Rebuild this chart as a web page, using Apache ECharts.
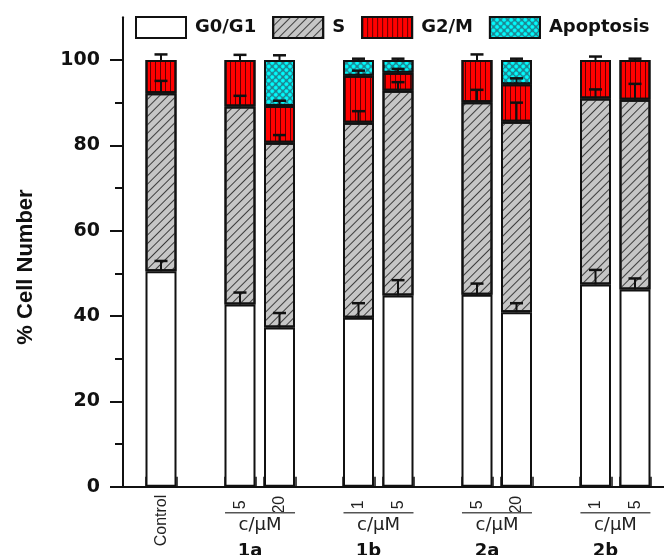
<!DOCTYPE html>
<html>
<head>
<meta charset="utf-8">
<script src="https://cdn.jsdelivr.net/npm/echarts@6/dist/echarts.min.js"></script>
<style>
  html, body { margin: 0; padding: 0; background: #ffffff; }
  #chart { width: 664px; height: 555px; }
</style>
</head>
<body>
<div id="chart"></div>
<script>
// Slot of each bar along the x axis (empty slots separate the compound groups)
const positions = [0, 2, 3, 5, 6, 8, 9, 11, 12];
const concLabels = ['Control', '5', '20', '1', '5', '5', '20', '1', '5'];
const groupNames = ['1a', '1b', '2a', '2b'];
const groupUnit = 'c/μM';
const groupMembers = [[1, 2], [3, 4], [5, 6], [7, 8]];

// Cell-cycle distribution (% of cells) per bar
const g0g1 = [50.5, 42.7, 37.3, 39.6, 44.8, 45.0, 40.9, 47.4, 46.2];
const sPhase = [41.7, 46.4, 43.3, 45.7, 48.0, 45.1, 44.6, 43.6, 44.5];
const g2m = [7.8, 10.9, 8.6, 11.0, 4.2, 9.9, 8.8, 9.0, 9.3];
const apoptosis = [0, 0, 10.8, 3.7, 3.0, 0, 5.7, 0, 0];

// Upper error (SD) of each segment
const g0g1Err = [2.4, 2.8, 3.4, 3.4, 3.6, 2.6, 2.1, 3.4, 2.6];
const sErr = [2.9, 2.5, 1.8, 2.7, 2.0, 2.9, 4.5, 2.1, 3.7];
const g2mErr = [1.3, 1.2, 1.25, 1.2, 0.9, 1.3, 1.4, 0.8, 0.3];
const apoErr = [0, 0, 1.1, 0.3, 0.3, 0, 0.3, 0, 0];

const yTicks = [0, 20, 40, 60, 80, 100];
const yMinorTicks = [10, 30, 50, 70, 90];

// Frame axes (value scale) and the bar axis (one band per slot)
const X_MIN = -0.97, X_MAX = 12.73;
const SLOT_COUNT = 13;
const HALF_BAR = 0.4;
const Y_MAX = 110;
const slots = Array.from({ length: SLOT_COUNT }, (_, i) => 'slot' + i);

const phases = [
  { name: 'G0/G1', values: g0g1, err: g0g1Err,
    style: { color: '#ffffff' } },
  { name: 'S', values: sPhase, err: sErr,
    style: { color: '#c6c6c6',
      decal: { symbol: 'rect', symbolSize: 1, dashArrayX: [1, 0], dashArrayY: [1, 5],
               rotation: -Math.PI / 4, color: '#3c3c3c' } } },
  { name: 'G2/M', values: g2m, err: g2mErr,
    style: { color: '#ff0000',
      decal: { symbol: 'rect', symbolSize: 1, dashArrayX: [1, 4], dashArrayY: [1, 0],
               rotation: 0, color: 'rgba(70,0,0,0.85)' } } },
  { name: 'Apoptosis', values: apoptosis, err: apoErr,
    style: { color: '#1f7f8c',
      decal: { symbol: 'circle', symbolSize: 1, dashArrayX: [4, 1], dashArrayY: [4, 1],
               rotation: Math.PI / 4, color: '#00ffff' } } }
];

function toSlots(values) {
  const out = slots.map(() => '-');
  positions.forEach((x, i) => { if (values[i] > 0) out[x] = values[i]; });
  return out;
}

const barSeries = phases.map(p => ({
  name: p.name,
  type: 'bar',
  stack: 'cells',
  xAxisIndex: 3,
  yAxisIndex: 2,
  barWidth: 31,
  itemStyle: Object.assign({ borderColor: '#111', borderWidth: 2 }, p.style),
  emphasis: { disabled: true },
  data: toSlots(p.values)
}));

// Cumulative segment tops, used to place the error bars
const tops = positions.map(() => 0);
const errSeries = phases.map(p => {
  const data = positions.map((x, i) => {
    tops[i] += p.values[i];
    return [x, tops[i], p.err[i]];
  });
  return {
    type: 'custom',
    xAxisIndex: 3,
    yAxisIndex: 2,
    z: 5,
    silent: true,
    data: data,
    renderItem: function (params, api) {
      const x = api.value(0), top = api.value(1), e = api.value(2);
      if (!(e > 0)) return;
      const p0 = api.coord([x, top]);
      const p1 = api.coord([x, top + e]);
      return {
        type: 'group',
        children: [
          { type: 'line', shape: { x1: p0[0], y1: p0[1], x2: p1[0], y2: p1[1] },
            style: { stroke: '#111', lineWidth: 2 } },
          { type: 'line', shape: { x1: p1[0] - 6.5, y1: p1[1], x2: p1[0] + 6.5, y2: p1[1] },
            style: { stroke: '#111', lineWidth: 2.5 } }
        ]
      };
    }
  };
});

const barEdges = [];
positions.forEach(x => { barEdges.push(x - HALF_BAR, x + HALF_BAR); });
const labelAt = {};
positions.forEach((x, i) => { labelAt[x] = concLabels[i]; });
const groupCenters = groupMembers.map(m => (positions[m[0]] + positions[m[1]]) / 2);
const groupAt = {};
groupCenters.forEach((c, i) => { groupAt[c] = groupNames[i]; });

const baseX = {
  type: 'value', gridIndex: 0, min: X_MIN, max: X_MAX, position: 'bottom',
  splitLine: { show: false }
};

const option = {
  animation: false,
  backgroundColor: '#ffffff',
  grid: [
    { left: 123, right: 0, top: 17.3, bottom: 68.3, containLabel: false, outerBoundsMode: 'none' },
    { left: 141.25, right: 9.25, top: 17.3, bottom: 68.3, containLabel: false, outerBoundsMode: 'none' }
  ],
  legend: {
    data: ['G0/G1', 'S', 'G2/M', 'Apoptosis'],
    left: 135, top: 16, padding: 0,
    itemWidth: 50, itemHeight: 21, itemGap: 16,
    icon: 'rect',
    selectedMode: false,
    textStyle: { fontFamily: 'DejaVu Sans', fontWeight: 'bold', fontSize: 18, color: '#111',
                 padding: [0, 0, 0, 4] }
  },
  xAxis: [
    Object.assign({}, baseX, {
      axisLine: { onZero: false, lineStyle: { color: '#111', width: 2 } },
      axisTick: { show: true, inside: true, length: 10, customValues: barEdges,
                  lineStyle: { color: '#111', width: 1.5 } },
      axisLabel: { customValues: [positions[0]], formatter: v => labelAt[v], rotate: 90, margin: 8,
                   fontFamily: 'Liberation Sans', fontSize: 16, color: '#222' }
    }),
    Object.assign({}, baseX, {
      axisLine: { show: false, onZero: false }, axisTick: { show: false },
      axisLabel: { customValues: positions.slice(1), formatter: v => labelAt[v], rotate: 90,
                   align: 'center', margin: 18,
                   fontFamily: 'Liberation Sans', fontSize: 16, color: '#222' }
    }),
    Object.assign({}, baseX, {
      axisLine: { show: false, onZero: false }, axisTick: { show: false },
      axisLabel: {
        customValues: groupCenters, margin: 24,
        formatter: v => '{ln| }\n{u|' + groupUnit + '}\n{g|' + groupAt[v] + '}',
        rich: {
          ln: { width: 70, height: 1.5, lineHeight: 4, backgroundColor: '#555', fontSize: 1 },
          u: { fontFamily: 'DejaVu Sans', fontSize: 18, color: '#222', lineHeight: 22 },
          g: { fontFamily: 'DejaVu Sans', fontWeight: 'bold', fontSize: 18, color: '#111',
               lineHeight: 30, padding: [0, 20, 0, 0] }
        }
      }
    }),
    {
      type: 'category', gridIndex: 1, data: slots, boundaryGap: true,
      show: false
    }
  ],
  yAxis: [
    {
      type: 'value', gridIndex: 0, min: 0, max: Y_MAX, position: 'left',
      splitLine: { show: false },
      axisLine: { show: true, onZero: false, lineStyle: { color: '#111', width: 2 } },
      axisTick: { show: true, length: 13, customValues: yTicks, lineStyle: { color: '#111', width: 2 } },
      axisLabel: { customValues: yTicks, margin: 23, fontFamily: 'DejaVu Sans', fontWeight: 'bold',
                   fontSize: 19, color: '#111' },
      name: '% Cell Number', nameLocation: 'middle', nameGap: 86, nameRotate: 90,
      nameTextStyle: { fontFamily: 'Liberation Sans', fontWeight: 'bold', fontSize: 22, color: '#111',
                       padding: [0, 30, 0, 0] }
    },
    {
      type: 'value', gridIndex: 0, min: 0, max: Y_MAX, position: 'left',
      splitLine: { show: false },
      axisLine: { show: false, onZero: false },
      axisTick: { show: true, length: 8, customValues: yMinorTicks, lineStyle: { color: '#111', width: 2 } },
      axisLabel: { show: false }
    },
    {
      type: 'value', gridIndex: 1, min: 0, max: Y_MAX, show: false, splitLine: { show: false }
    }
  ],
  series: barSeries.concat(errSeries)
};

const chart = echarts.init(document.getElementById('chart'), null, { renderer: 'canvas' });
chart.setOption(option);
</script>
</body>
</html>
